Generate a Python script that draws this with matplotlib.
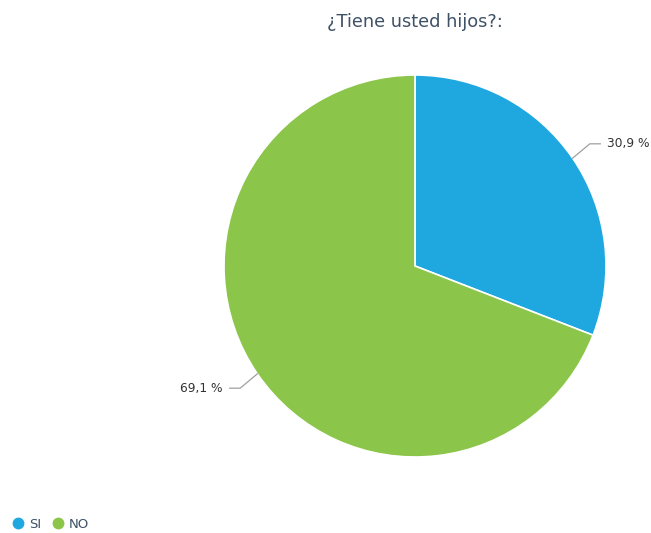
import numpy as np
import matplotlib.pyplot as plt
from matplotlib.lines import Line2D

# Survey answers
categories = ["SI", "NO"]
percentages = [30.9, 69.1]
colors = ["#1fa8e0", "#8bc54a"]
title = "¿Tiene usted hijos?:"

fig = plt.figure(figsize=(6.51, 5.33), dpi=100)
fig.patch.set_facecolor("white")

# pie axes sized so radius 1 spans 191 px, centred at (415, 266)
W, H = 651, 533
cx, cy, r = 415, 266, 191
ax = fig.add_axes([(cx - r) / W, (H - cy - r) / H, 2 * r / W, 2 * r / H])
ax.set_aspect("equal")
ax.axis("off")

wedges, _ = ax.pie(percentages, colors=colors, startangle=90, counterclock=False,
                   radius=1, wedgeprops=dict(edgecolor="white", linewidth=1.2))
ax.set_xlim(-1, 1)
ax.set_ylim(-1, 1)

# labels with connector lines
for w, p in zip(wedges, percentages):
    theta = np.deg2rad((w.theta1 + w.theta2) / 2)
    x0, y0 = np.cos(theta), np.sin(theta)
    side = np.sign(x0)
    ex, ey = x0 + side * 0.09, y0 + 0.075 * np.sign(y0)
    hx = ex + side * 0.055
    ax.plot([x0, ex, hx], [y0, ey, ey], color="#a0a0a0", lw=0.9, clip_on=False)
    ax.text(hx + side * 0.035, ey, f"{p:.1f} %".replace(".", ","),
            ha="left" if side > 0 else "right", va="center",
            fontsize=8.8, color="#333333", clip_on=False)

fig.text(cx / W, 1 - 22 / H, title, ha="center", va="center",
         fontsize=12.8, color="#3e5166")

handles = [Line2D([], [], marker="o", ls="", markersize=7.5, markerfacecolor=c,
                  markeredgecolor=c) for c in colors]
leg = fig.legend(handles, categories, loc="center left",
                 bbox_to_anchor=(0 / W, 1 - 524 / H), ncol=2, frameon=False,
                 fontsize=9.5, handletextpad=0.3, columnspacing=0.8,
                 handlelength=1.0)
for t in leg.get_texts():
    t.set_color("#3e5166")

fig.savefig("out.png", dpi=100)
